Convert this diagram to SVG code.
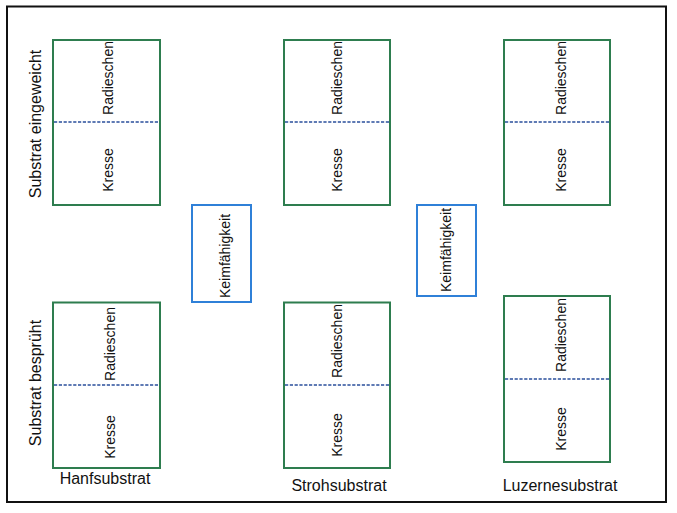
<svg xmlns="http://www.w3.org/2000/svg" width="677" height="513" viewBox="0 0 677 513">
<style>
text{font-family:"Liberation Sans",Arial,sans-serif;fill:#111}
.plot{fill:#fff;stroke:#2e7d4f;stroke-width:2}
.germ{fill:#fff;stroke:#2f80d8;stroke-width:2}
.div{stroke:#2a4f9c;stroke-width:1.6;stroke-dasharray:3.2 1.6}
.lbl{font-size:14px;text-anchor:middle}
.big{font-size:16px;text-anchor:middle}
</style>
<rect width="677" height="513" fill="#fff"/>
<rect x="7" y="6.5" width="659" height="495.5" fill="none" stroke="#111" stroke-width="2"/>
<text class="big" transform="translate(41,124) rotate(-90)">Substrat eingeweicht</text>
<text class="big" transform="translate(41,383) rotate(-90)">Substrat besprüht</text>
<g id="hanf-top">
<rect class="plot" x="53" y="40" width="107" height="165"/>
<line class="div" x1="54" y1="122" x2="159" y2="122"/>
<text class="lbl" transform="translate(113,78) rotate(-90)">Radieschen</text>
<text class="lbl" transform="translate(113,170) rotate(-90)">Kresse</text>
</g>
<g id="stroh-top">
<rect class="plot" x="284" y="40" width="106" height="165"/>
<line class="div" x1="285" y1="122" x2="389" y2="122"/>
<text class="lbl" transform="translate(342,78) rotate(-90)">Radieschen</text>
<text class="lbl" transform="translate(342,170) rotate(-90)">Kresse</text>
</g>
<g id="luzerne-top">
<rect class="plot" x="504" y="40" width="106" height="165"/>
<line class="div" x1="505" y1="122" x2="609" y2="122"/>
<text class="lbl" transform="translate(566,78) rotate(-90)">Radieschen</text>
<text class="lbl" transform="translate(566,170) rotate(-90)">Kresse</text>
</g>
<g id="keim-1">
<rect class="germ" x="192" y="205" width="59" height="97"/>
<text class="lbl" transform="translate(230,256) rotate(-90)">Keimfähigkeit</text>
</g>
<g id="keim-2">
<rect class="germ" x="417" y="205" width="59" height="91"/>
<text class="lbl" transform="translate(451,250) rotate(-90)">Keimfähigkeit</text>
</g>
<g id="hanf-bottom">
<rect class="plot" x="53" y="302.5" width="107" height="165.5"/>
<line class="div" x1="54" y1="385" x2="159" y2="385"/>
<text class="lbl" transform="translate(115,344) rotate(-90)">Radieschen</text>
<text class="lbl" transform="translate(115,437) rotate(-90)">Kresse</text>
</g>
<g id="stroh-bottom">
<rect class="plot" x="284" y="302.5" width="106" height="165.5"/>
<line class="div" x1="285" y1="385" x2="389" y2="385"/>
<text class="lbl" transform="translate(342,341) rotate(-90)">Radieschen</text>
<text class="lbl" transform="translate(342,435) rotate(-90)">Kresse</text>
</g>
<g id="luzerne-bottom">
<rect class="plot" x="504" y="296" width="106" height="166"/>
<line class="div" x1="505" y1="379" x2="609" y2="379"/>
<text class="lbl" transform="translate(566,335) rotate(-90)">Radieschen</text>
<text class="lbl" transform="translate(566,429) rotate(-90)">Kresse</text>
</g>
<g id="labels">
<text class="big" x="105" y="484">Hanfsubstrat</text>
<text class="big" x="339" y="491">Strohsubstrat</text>
<text class="big" x="560" y="491">Luzernesubstrat</text>
</g>
<g id="connectors"></g>
</svg>
